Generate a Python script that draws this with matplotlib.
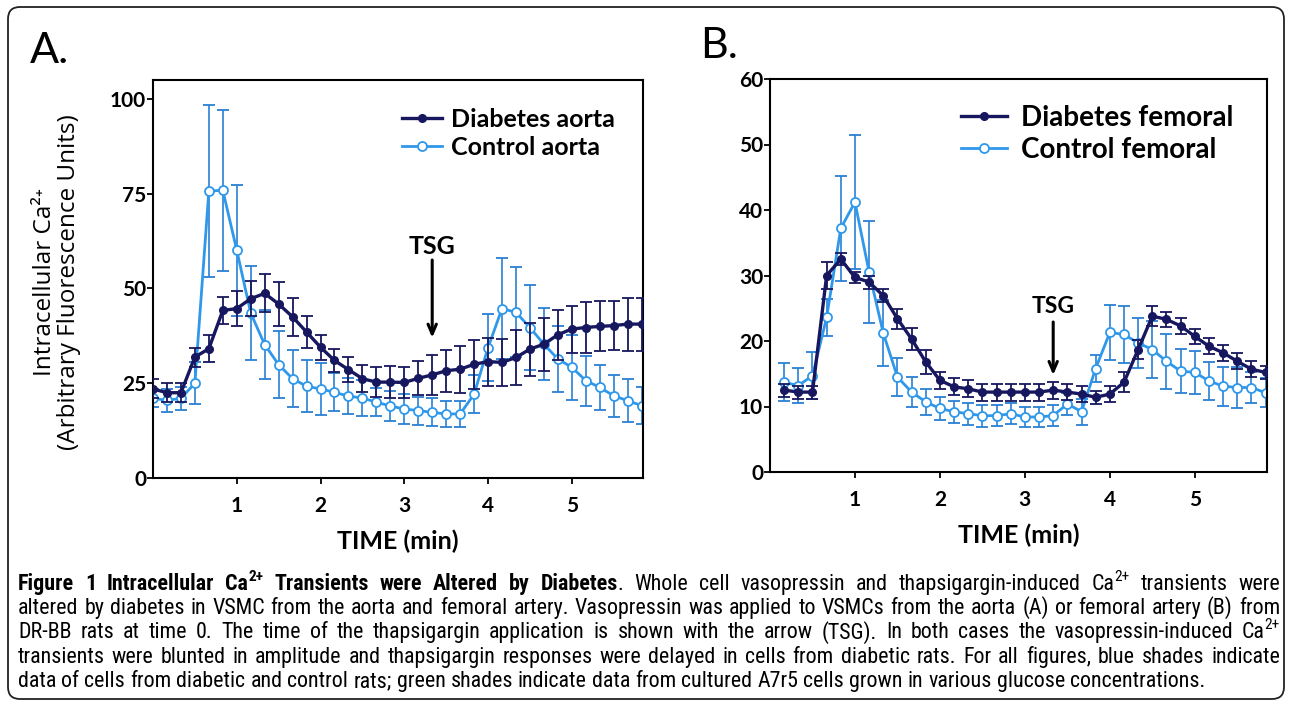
import matplotlib
matplotlib.use('Agg')
import matplotlib.pyplot as plt
from matplotlib.patches import FancyBboxPatch
from matplotlib.transforms import IdentityTransform

plt.rcParams['font.family'] = ['Lato', 'DejaVu Sans']

# ---------------- data ----------------
time_A = [i / 6 for i in range(36)]
diab_A = [23.5, 22.5, 22.5, 31.9, 34.1, 44.2, 44.7, 47.3, 48.7, 45.9, 42.5, 38.5,
          34.5, 31.0, 28.6, 26.2, 25.3, 25.3, 25.2, 26.3, 27.2, 28.3, 28.7, 30.0,
          30.7, 30.5, 31.8, 34.0, 35.3, 37.8, 39.3, 39.7, 40.0, 40.2, 40.6, 40.6]
err_diab_A = [2.5, 2.5, 2.5, 2.5, 3.5, 3.6, 4.6, 4.6, 5.0, 5.7, 5.0, 4.2,
              3.3, 3.0, 3.3, 3.6, 4.0, 4.2, 4.2, 4.5, 5.3, 5.6, 6.2, 6.5,
              6.3, 6.3, 7.2, 7.0, 7.0, 6.6, 6.2, 6.7, 6.6, 6.4, 7.0, 7.0]
ctrl_A = [21.0, 20.5, 21.0, 25.0, 75.7, 75.9, 60.1, 43.5, 35.2, 29.9, 26.2, 24.2,
          23.5, 22.6, 21.6, 21.1, 20.0, 19.0, 18.2, 17.8, 17.3, 16.9, 16.9, 22.1,
          34.4, 44.7, 43.7, 39.7, 35.3, 31.4, 29.2, 25.7, 23.9, 21.7, 20.4, 19.1]
err_ctrl_A = [2.4, 3.0, 3.0, 5.5, 22.7, 21.3, 17.3, 12.5, 9.0, 8.8, 7.6, 6.8,
              6.8, 5.0, 4.8, 4.8, 3.7, 4.0, 4.0, 3.7, 3.7, 3.5, 3.5, 5.0,
              8.8, 13.4, 11.9, 11.2, 9.5, 8.6, 8.5, 6.6, 6.0, 5.5, 5.6, 4.8]

time_B = [i / 6 for i in range(1, 36)]
diab_B = [12.5, 12.2, 12.2, 30.0, 32.5, 29.7, 29.0, 26.9, 23.4, 20.3, 16.8, 14.0,
          13.0, 12.7, 12.2, 12.2, 12.2, 12.2, 12.2, 12.5, 12.2, 11.9, 11.4, 11.9,
          13.7, 18.7, 23.8, 23.3, 22.3, 20.7, 19.2, 18.2, 16.9, 15.7, 15.2]
err_diab_B = [1.0, 1.0, 1.0, 2.0, 0.9, 0.8, 1.0, 1.0, 1.5, 1.7, 1.8, 1.3,
              1.3, 1.3, 1.3, 1.3, 1.3, 1.3, 1.3, 1.3, 1.2, 1.2, 1.0, 1.2,
              1.5, 1.5, 1.5, 1.2, 1.2, 1.2, 1.2, 1.2, 1.2, 1.2, 1.0]
ctrl_B = [13.7, 13.2, 14.7, 23.6, 37.2, 41.2, 30.5, 21.2, 14.5, 12.2, 10.7, 9.7,
          9.2, 8.9, 8.6, 8.6, 8.9, 8.4, 8.4, 8.6, 10.4, 9.2, 15.8, 21.3,
          21.0, 19.7, 18.7, 16.9, 15.4, 15.2, 13.9, 13.1, 12.9, 12.9, 12.1]
err_ctrl_B = [2.9, 2.7, 3.6, 2.8, 8.0, 10.2, 7.8, 5.0, 2.9, 2.3, 2.0, 1.7,
              1.7, 1.7, 1.7, 1.6, 1.6, 1.6, 1.6, 1.6, 1.7, 2.0, 2.0, 4.2,
              4.4, 3.8, 4.3, 4.2, 3.4, 3.3, 2.9, 3.0, 3.2, 2.4, 2.2]

labels_A = ['Diabetes aorta', 'Control aorta']
labels_B = ['Diabetes femoral', 'Control femoral']
tsg_time = 20 / 6
xticks = [1, 2, 3, 4, 5]
yticks_A = [0, 25, 50, 75, 100]
yticks_B = [0, 10, 20, 30, 40, 50, 60]

C_DIAB = '#17175f'
C_CTRL = '#2f98ea'
C_CTRL_ERR = '#2a80d4'

# ---------------- figure ----------------
W, H = 1290, 706
fig = plt.figure(figsize=(W / 100, H / 100), dpi=100)
renderer = fig.canvas.get_renderer()


def px_rect(l, t, r, b):
    return [l / W, 1 - b / H, (r - l) / W, (b - t) / H]


axA = fig.add_axes(px_rect(153, 80, 643, 478))
axB = fig.add_axes(px_rect(770, 79, 1267, 472))


def draw_panel(ax, t, diab, ediab, ctrl, ectrl, labels, ylim, yticks,
               leg, tsg_y, tsg_fs):
    cc = ax.errorbar(t, ctrl, yerr=ectrl, color=C_CTRL, ecolor=C_CTRL_ERR,
                     lw=2.0, elinewidth=1.2, capsize=4, capthick=1.2,
                     marker='o', ms=6.5, mfc='white', mec=C_CTRL, mew=1.3,
                     zorder=2)
    cd = ax.errorbar(t, diab, yerr=ediab, color=C_DIAB, ecolor=C_DIAB,
                     lw=2.4, elinewidth=1.3, capsize=4, capthick=1.3,
                     marker='o', ms=5.5, mfc=C_DIAB, mec=C_DIAB,
                     zorder=3)
    ax.set_xlim(0, 5.85)
    ax.set_ylim(*ylim)
    ax.set_xticks(xticks)
    ax.set_xticklabels([str(v) for v in xticks], fontweight='bold', fontsize=15)
    ax.set_yticks(yticks)
    ax.set_yticklabels([str(v) for v in yticks], fontweight='bold', fontsize=15)
    for s in ax.spines.values():
        s.set_linewidth(1.5)
    ax.tick_params(direction='out', length=4, width=1.3, pad=1)
    ax.tick_params(axis='x', pad=9)
    ax.set_xlabel('TIME (min)', fontsize=18, fontweight='bold', labelpad=10)
    x0, y0, fs, hl, tp, ls = leg
    ax.legend([cd[0], cc[0]], labels, loc='upper left',
              bbox_to_anchor=(x0 / W, 1 - y0 / H),
              bbox_transform=fig.transFigure, frameon=False,
              borderpad=0, borderaxespad=0, handlelength=hl,
              handletextpad=tp, labelspacing=ls,
              prop={'size': fs, 'weight': 'bold'})
    ax.annotate('', xy=(tsg_time, tsg_y[2]), xytext=(tsg_time, tsg_y[1]),
                arrowprops=dict(arrowstyle='->,head_length=0.7,head_width=0.3',
                                color='black', lw=2.2, shrinkA=0, shrinkB=0))
    ax.text(tsg_time, tsg_y[0], 'TSG', ha='center', va='center',
            fontsize=tsg_fs, fontweight='bold')


draw_panel(axA, time_A, diab_A, err_diab_A, ctrl_A, err_ctrl_A, labels_A,
           (0, 105), yticks_A, (402, 108, 18, 1.6, 0.36, 0.2),
           (61, 57.5, 37), 18)
draw_panel(axB, time_B, diab_B, err_diab_B, ctrl_B, err_ctrl_B, labels_B,
           (0, 60), yticks_B, (961, 105, 20, 1.65, 0.5, 0.22),
           (25.2, 22.9, 14.8), 16.5)

# y label (panel A): one two-line text
YL_FONT = ['Open Sans', 'Lato', 'DejaVu Sans']
fig.text(57 / W, 1 - 282 / H,
         'Intracellular Ca\u00b2\u207a\n(Arbitrary Fluorescence Units)',
         rotation=90, ha='center', va='center', multialignment='center',
         linespacing=0.95, fontsize=17.5, family=YL_FONT)

# panel letters
fig.text(30 / W, 1 - 63 / H, 'A.', fontsize=31, va='baseline', ha='left')
fig.text(700 / W, 1 - 58 / H, 'B.', fontsize=31, va='baseline', ha='left')

# outer rounded border
border = FancyBboxPatch((8, 7), 1276, 692,
                        boxstyle='round,pad=0,rounding_size=12',
                        transform=IdentityTransform(), fill=False,
                        ec='#222222', lw=1.3)
fig.add_artist(border)

# ---------------- caption (justified) ----------------
CAP_FONT = ['Roboto Condensed', 'Liberation Sans Narrow', 'Lato', 'DejaVu Sans']
B, N = 'bold', 'normal'


def words(s, w=N):
    return [[(x, w, '')] for x in s.split()]


def ca(w):
    return [[('Ca', w, ''), ('2+', w, 'sup')]]


cap_lines = [
    words('Figure 1 Intracellular', B) + ca(B)
    + words('Transients were Altered by', B) + [[('Diabetes', B, ''), ('.', N, '')]]
    + words('Whole cell vasopressin and thapsigargin-induced')
    + ca(N) + words('transients were'),
    words('altered by diabetes in VSMC from the aorta and femoral artery. '
          'Vasopressin was applied to VSMCs from the aorta (A) or femoral '
          'artery (B) from'),
    words('DR-BB rats at time 0. The time of the thapsigargin application is '
          'shown with the arrow (TSG). In both cases the vasopressin-induced')
    + ca(N),
    words('transients were blunted in amplitude and thapsigargin responses were '
          'delayed in cells from diabetic rats. For all figures, blue shades '
          'indicate'),
    words('data of cells from diabetic and control rats; green shades indicate '
          'data from cultured A7r5 cells grown in various glucose '
          'concentrations.'),
]
cap_left, cap_right = 18, 1280
cap_base0, cap_step = 590, 24.2
SUP_SCALE, SUP_RISE = 0.7, 0.42


def seg_size(fs, kind):
    return fs * SUP_SCALE if kind == 'sup' else fs


def seg_width(txt, weight, fs):
    t = fig.text(0, 0, txt, fontsize=fs, fontweight=weight, family=CAP_FONT)
    w = t.get_window_extent(renderer).width
    t.remove()
    return w


def line_metrics(line, fs):
    return [[seg_width(s, w, seg_size(fs, k)) for s, w, k in word] for word in line]


fs = 15.8
space = seg_width('a a', N, fs) - seg_width('aa', N, fs)
nat = []
for line in cap_lines:
    ws = line_metrics(line, fs)
    nat.append(sum(sum(x) for x in ws) + space * (len(line) - 1))
target = cap_right - cap_left
if max(nat) > target * 0.995:
    fs = fs * target * 0.985 / max(nat)
space = seg_width('a a', N, fs) - seg_width('aa', N, fs)

for i, line in enumerate(cap_lines):
    ws = line_metrics(line, fs)
    total = sum(sum(x) for x in ws)
    last = i == len(cap_lines) - 1
    gap = space if last else (target - total) / (len(line) - 1)
    x = cap_left
    yb_px = cap_base0 + i * cap_step
    for word, wl in zip(line, ws):
        xx = x
        for (s, w, k), sw in zip(word, wl):
            rise = fs * 100 / 72 * SUP_RISE if k == 'sup' else 0
            fig.text(xx / W, 1 - (yb_px - rise) / H, s, fontsize=seg_size(fs, k),
                     fontweight=w, family=CAP_FONT, ha='left', va='baseline')
            xx += sw
        x = xx + gap

fig.savefig('out.png', dpi=100)
